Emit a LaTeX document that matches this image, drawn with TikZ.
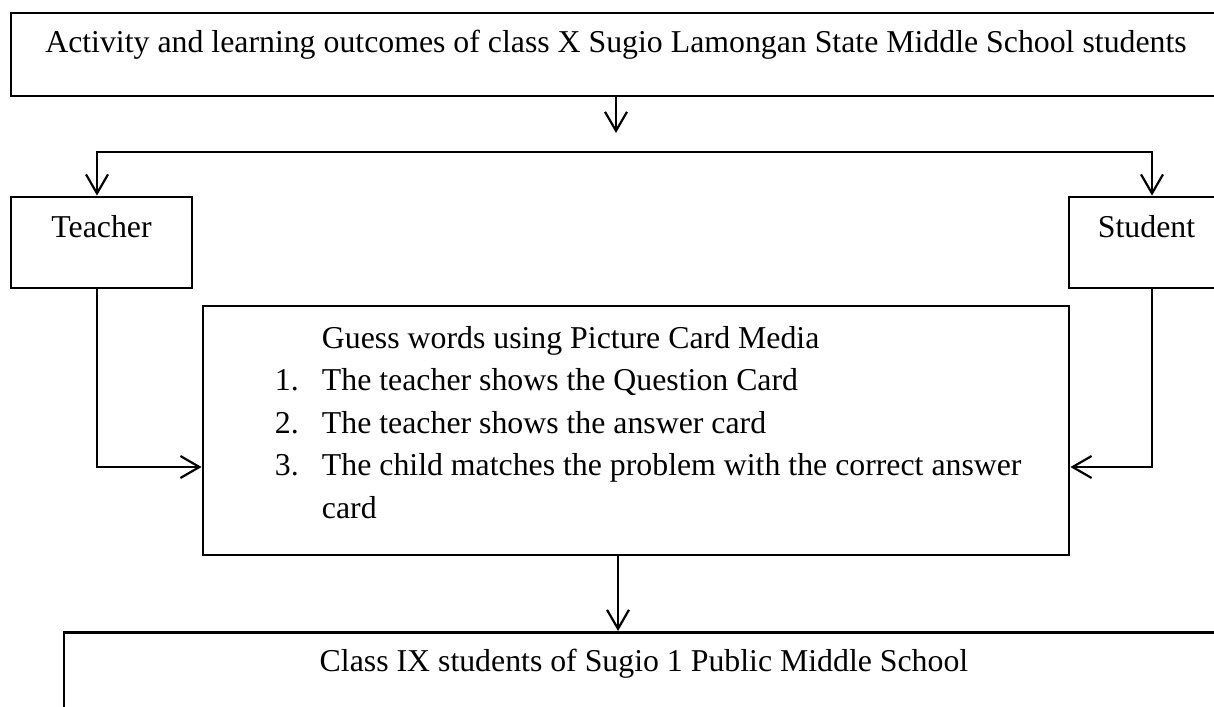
\documentclass[tikz,border=0pt]{standalone}
\usepackage{fontspec}
\setmainfont{Liberation Serif}
\usetikzlibrary{positioning, arrows.meta}

\begin{document}
\begin{tikzpicture}[x=0.2mm, y=-0.2mm,
    box/.style={rectangle, draw, line width=1.6pt, inner sep=0pt, font=\fontsize{18.1}{24.2}\selectfont},
    arr/.style={-{Straight Barb[length=3.8mm, width=4.4mm]}, line width=1.25pt},
    twoarr/.style={{Straight Barb[length=3.8mm, width=4.4mm]}-{Straight Barb[length=3.8mm, width=4.4mm]}, line width=1.25pt}]
    \useasboundingbox (0,0) rectangle (1214,707);

    \node (activity) [box, minimum width=242mm, minimum height=16.6mm, text height=5mm, text depth=5.6mm] at (616,54.5)
        {Activity and learning outcomes of class X Sugio Lamongan State Middle School students};
    \node (teacher) [box, minimum width=36.2mm, minimum height=18.2mm, text height=5mm, text depth=7.2mm] at (101.5,242.5) {Teacher};
    \node (student) [box, minimum width=31mm, minimum height=18.2mm, text height=5mm, text depth=7.2mm] at (1146.5,242.5) {Student};
    \node (guess) [box, minimum width=173.2mm, minimum height=49.8mm, text height=5.6mm, text depth=38.6mm] at (636,430.5)
        {\parbox[t]{160mm}{\raggedright
            \hspace*{17.2mm}Guess words using Picture Card Media\\
            \hspace*{7.8mm}\makebox[9.4mm][l]{1.}The teacher shows the Question Card\\
            \hspace*{7.8mm}\makebox[9.4mm][l]{2.}The teacher shows the answer card\\
            \hspace*{7.8mm}\makebox[9.4mm][l]{3.}The child matches the problem with the correct answer\\
            \hspace*{17.2mm}card}};
    \node (classix) [box, anchor=north, minimum width=232mm, minimum height=30mm, text height=4.8mm, text depth=19.2mm] at (644,631)
        {Class IX students of Sugio 1 Public Middle School};

    \coordinate (split) at (616,133);
    \coordinate (bleft) at (97,152);
    \coordinate (bright) at (1152,152);

    \draw[arr] (activity) -- (split);
    \draw[twoarr] (teacher.north -| bleft) |- (bright) -- (student.north -| bright);
    \draw[arr] (teacher.south -| bleft) |- ([yshift=-7.3mm]guess.west);
    \draw[arr] (student.south -| bright) |- ([yshift=-7.3mm]guess.east);
    \draw[arr] ([xshift=-3.6mm]guess.south) -- ([xshift=-3.6mm]guess.south |- classix.north);
\end{tikzpicture}
\end{document}
